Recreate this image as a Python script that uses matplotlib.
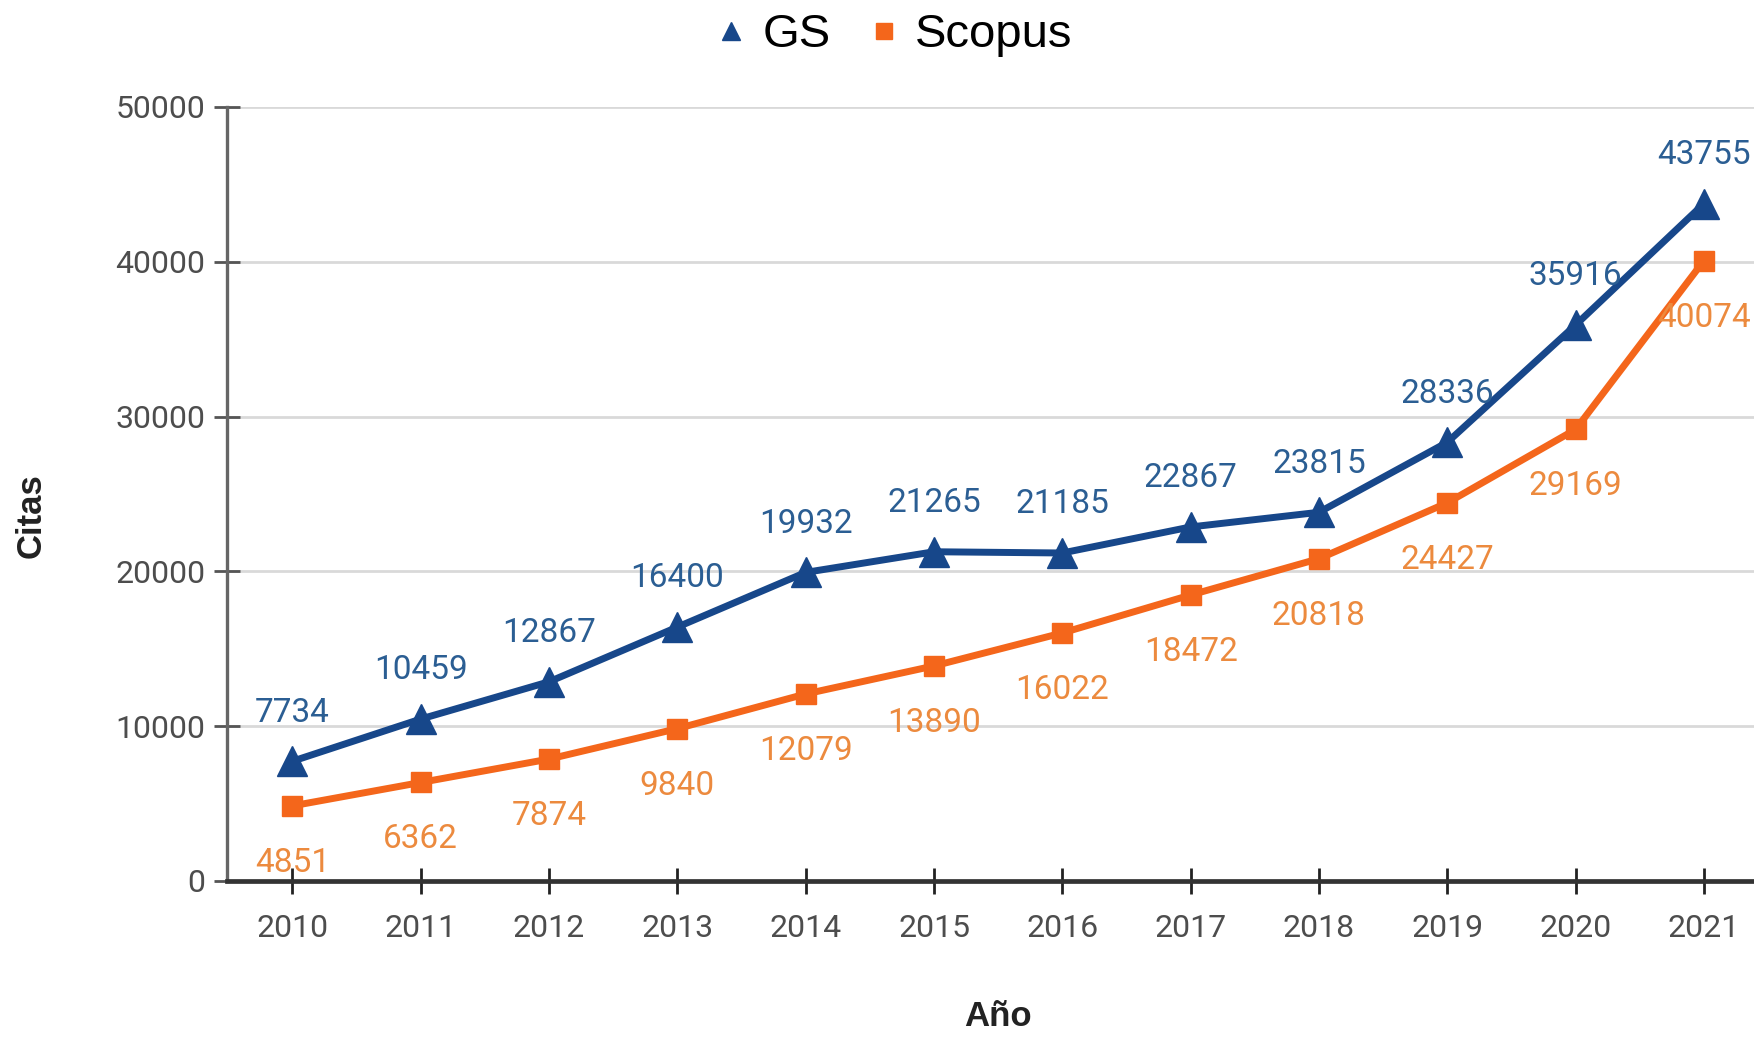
import matplotlib.pyplot as plt
from matplotlib.lines import Line2D

# Datos de citas por año
years = [2010, 2011, 2012, 2013, 2014, 2015, 2016, 2017, 2018, 2019, 2020, 2021]
gs = [7734, 10459, 12867, 16400, 19932, 21265, 21185, 22867, 23815, 28336, 35916, 43755]
scopus = [4851, 6362, 7874, 9840, 12079, 13890, 16022, 18472, 20818, 24427, 29169, 40074]
y_ticks = [0, 10000, 20000, 30000, 40000, 50000]

gs_color = "#17478a"
gs_label_color = "#2b5e93"
sc_color = "#f4661b"
sc_label_color = "#ec8a3e"

plt.rcParams['font.family'] = ['Roboto', 'DejaVu Sans']

fig = plt.figure(figsize=(17.54, 10.38), dpi=100)
ax = fig.add_axes([0.1294, 0.1513, 0.8706, 0.7457])

ax.plot(years, gs, color=gs_color, lw=5, marker="^", markersize=21, zorder=4)
ax.plot(years, scopus, color=sc_color, lw=5, marker="s", markersize=14, zorder=3)

for x, y in zip(years, gs):
    ax.annotate(str(y), (x, y), xytext=(0, 35), textcoords="offset points",
                ha="center", va="center", fontsize=24, color=gs_label_color, zorder=5)
for x, y in zip(years, scopus):
    ax.annotate(str(y), (x, y), xytext=(0, -41), textcoords="offset points",
                ha="center", va="center", fontsize=24, color=sc_label_color, zorder=5)

ax.set_xlim(2009.49, 2021.39)
ax.set_ylim(0, 50000)
ax.set_xticks(years)
ax.set_yticks(y_ticks)
ax.grid(axis="y", color="#d9d9d9", lw=2)
ax.set_axisbelow(True)

for s in ["top", "right"]:
    ax.spines[s].set_visible(False)
ax.spines["left"].set_color("#666666")
ax.spines["left"].set_linewidth(2.4)
ax.spines["bottom"].set_color("#333333")
ax.spines["bottom"].set_linewidth(3.4)

ax.tick_params(axis="y", direction="inout", length=19, width=2, color="#555555",
               labelsize=23, labelcolor="#4d4d4d", pad=6)
ax.tick_params(axis="x", direction="inout", length=19, width=2, color="#222222",
               labelsize=23, labelcolor="#4d4d4d", pad=14)

fig.text(31 / 1754, 1 - 516 / 1038, "Citas", rotation=90, ha="center", va="center",
         fontsize=25, fontweight="bold", color="#222222",
         family=["Liberation Sans", "DejaVu Sans"])
fig.text(998 / 1754, 1 - 1016 / 1038, "Año", ha="center", va="center",
         fontsize=25, fontweight="bold", color="#222222",
         family=["Liberation Sans", "DejaVu Sans"])

handles = [
    Line2D([0], [0], color=gs_color, marker="^", ls="none", markersize=13, label="GS"),
    Line2D([0], [0], color=sc_color, marker="s", ls="none", markersize=11, label="Scopus"),
]
fig.legend(handles=handles, loc="center", bbox_to_anchor=(0.51, 0.966), ncol=2,
           frameon=False, handlelength=0.6, handletextpad=0.36, columnspacing=0.83,
           prop={"family": ["Liberation Sans", "DejaVu Sans"], "size": 34})

fig.savefig("out.png", dpi=100)
